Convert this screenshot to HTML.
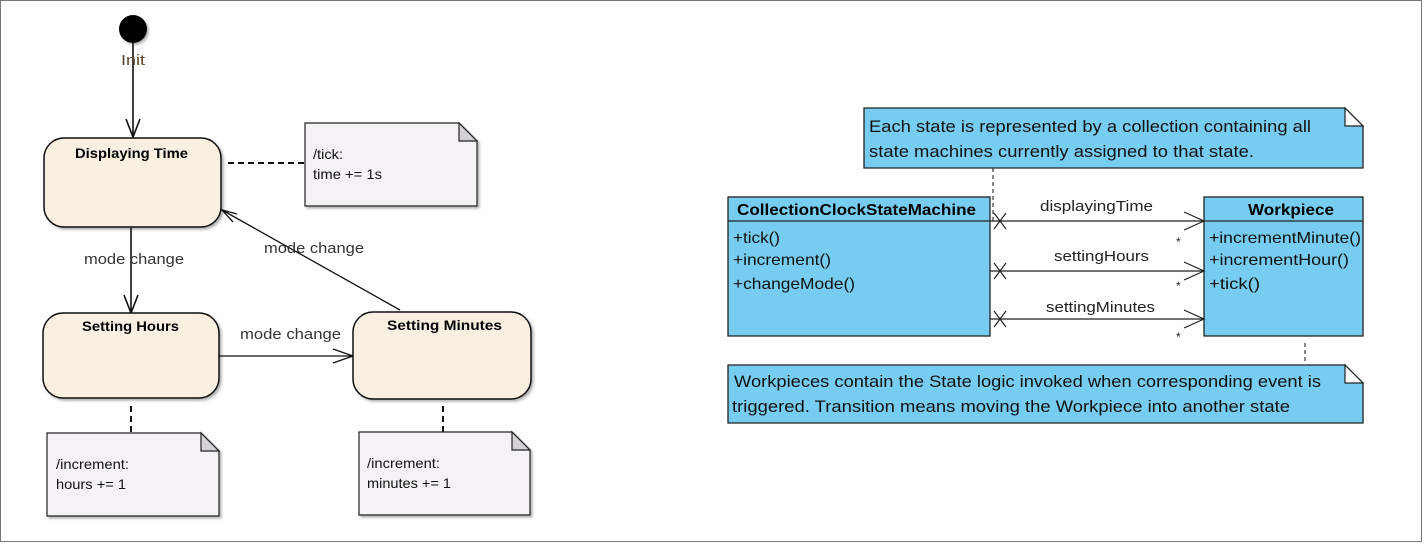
<!DOCTYPE html>
<html><head><meta charset="utf-8"><style>
html,body{margin:0;padding:0;background:#fff;}
svg{display:block;}
text{font-family:"Liberation Sans",sans-serif;}
</style></head><body>
<svg width="1424" height="545" viewBox="0 0 1424 545" xmlns="http://www.w3.org/2000/svg">
<defs>
<filter id="sh" x="-5%" y="-5%" width="115%" height="115%"><feDropShadow dx="2" dy="2" stdDeviation="1.2" flood-color="#000" flood-opacity="0.3"/></filter>
</defs>
<rect x="0.5" y="0.5" width="1421" height="541" fill="#fff" stroke="#777" stroke-width="1"/>
<g fill="none" stroke="#111" stroke-width="1.6">
<circle cx="133" cy="29" r="14" fill="#000" stroke="none" filter="url(#sh)"/>
<line x1="133" y1="42" x2="133" y2="137"/>
<polyline points="126,119 133,137 140,119"/>
<line x1="131" y1="228" x2="131" y2="313"/>
<polyline points="124,295 131,313 138,295"/>
<line x1="219" y1="356" x2="353" y2="356" stroke-width="1.3"/>
<polyline points="333,349 353,356 333,363" stroke-width="1.3"/>
<line x1="400" y1="310" x2="222" y2="210" stroke-width="1.3"/>
<polyline points="237,214 222,210 233,222" stroke-width="1.3"/>
</g>
<g stroke="#111" stroke-width="2" stroke-dasharray="6,4">
<line x1="228" y1="163" x2="305" y2="163"/>
<line x1="131" y1="406" x2="131" y2="433"/>
<line x1="443" y1="406" x2="443" y2="432"/>
</g>
<g fill="#faf0e2" stroke="#111" stroke-width="1.5" filter="url(#sh)">
<rect x="44" y="138" width="177" height="89" rx="20"/>
<rect x="43" y="313" width="176" height="85" rx="20"/>
<rect x="353" y="312" width="178" height="87" rx="20"/>
</g>
<g stroke="#222" stroke-width="1.2" filter="url(#sh)">
<path d="M305,123 H459 L477,141 V206 H305 Z" fill="#f5f2f6"/>
<path d="M47,433 H201 L219,451 V516 H47 Z" fill="#f5f2f6"/>
<path d="M359,432 H512 L530,450 V515 H359 Z" fill="#f5f2f6"/>
</g>
<g fill="#d4d2d6" stroke="#222" stroke-width="1.2">
<path d="M459,123 V141 H477 Z"/>
<path d="M201,433 V451 H219 Z"/>
<path d="M512,432 V450 H530 Z"/>
</g>
<g font-size="14" fill="#000" font-weight="bold" lengthAdjust="spacingAndGlyphs">
<text x="75" y="158" textLength="113" lengthAdjust="spacingAndGlyphs">Displaying Time</text>
<text x="82" y="331" textLength="97" lengthAdjust="spacingAndGlyphs">Setting Hours</text>
<text x="387" y="330" textLength="115" lengthAdjust="spacingAndGlyphs">Setting Minutes</text>
</g>
<g font-size="15" fill="#333">
<text x="121" y="65" fill="#5a4530" textLength="24" lengthAdjust="spacingAndGlyphs">Init</text>
<text x="84" y="264" textLength="100" lengthAdjust="spacingAndGlyphs">mode change</text>
<text x="264" y="253" textLength="100" lengthAdjust="spacingAndGlyphs">mode change</text>
<text x="240" y="339" textLength="101" lengthAdjust="spacingAndGlyphs">mode change</text>
</g>
<g font-size="14" fill="#111">
<text x="313" y="159" textLength="30" lengthAdjust="spacingAndGlyphs">/tick:</text>
<text x="313" y="179" textLength="69" lengthAdjust="spacingAndGlyphs">time += 1s</text>
<text x="56" y="469" textLength="73" lengthAdjust="spacingAndGlyphs">/increment:</text>
<text x="56" y="489" textLength="70" lengthAdjust="spacingAndGlyphs">hours += 1</text>
<text x="367" y="468" textLength="73" lengthAdjust="spacingAndGlyphs">/increment:</text>
<text x="367" y="488" textLength="84" lengthAdjust="spacingAndGlyphs">minutes += 1</text>
</g>
<g stroke="#111" stroke-width="1" stroke-dasharray="4,3">
<line x1="993" y1="168" x2="993" y2="222"/>
<line x1="1305" y1="343" x2="1305" y2="363"/>
</g>
<g stroke="#222" stroke-width="1.3" fill="#77cdf1">
<path d="M864,108 H1345 L1363,126 V168 H864 Z"/>
<path d="M728,365 H1345 L1363,383 V423 H728 Z"/>
<rect x="728" y="197" width="262" height="139"/>
<line x1="728" y1="221" x2="990" y2="221"/>
<rect x="1204" y="197" width="159" height="139"/>
<line x1="1204" y1="221" x2="1363" y2="221"/>
</g>
<g fill="#fff" stroke="#222" stroke-width="1.2">
<path d="M1345,108 V126 H1363 Z"/>
<path d="M1345,365 V383 H1363 Z"/>
</g>
<g stroke="#222" stroke-width="1.2" fill="none">
<line x1="990" y1="221" x2="1204" y2="221"/>
<line x1="990" y1="271" x2="1204" y2="271"/>
<line x1="990" y1="319" x2="1204" y2="319"/>
<polyline points="1184,212 1204,221 1184,230"/>
<polyline points="1184,262 1204,271 1184,280"/>
<polyline points="1184,310 1204,319 1184,328"/>
<path d="M994,213 L1006,229 M1006,213 L994,229"/>
<path d="M994,263 L1006,279 M1006,263 L994,279"/>
<path d="M994,311 L1006,327 M1006,311 L994,327"/>
</g>
<g font-size="16" fill="#000" font-weight="bold">
<text x="737" y="215" textLength="239" lengthAdjust="spacingAndGlyphs">CollectionClockStateMachine</text>
<text x="1248" y="215" textLength="86" lengthAdjust="spacingAndGlyphs">Workpiece</text>
</g>
<g font-size="16" fill="#111">
<text x="733" y="243" textLength="47" lengthAdjust="spacingAndGlyphs">+tick()</text>
<text x="733" y="265" textLength="98" lengthAdjust="spacingAndGlyphs">+increment()</text>
<text x="733" y="289" textLength="122" lengthAdjust="spacingAndGlyphs">+changeMode()</text>
<text x="1209" y="243" textLength="152" lengthAdjust="spacingAndGlyphs">+incrementMinute()</text>
<text x="1209" y="265" textLength="140" lengthAdjust="spacingAndGlyphs">+incrementHour()</text>
<text x="1209" y="289" textLength="51" lengthAdjust="spacingAndGlyphs">+tick()</text>
<text x="869" y="132" font-size="17" textLength="442" lengthAdjust="spacingAndGlyphs">Each state is represented by a collection containing all</text>
<text x="869" y="157" font-size="17" textLength="385" lengthAdjust="spacingAndGlyphs">state machines currently assigned to that state.</text>
<text x="734" y="387" font-size="17" textLength="587" lengthAdjust="spacingAndGlyphs">Workpieces contain the State logic invoked when corresponding event is</text>
<text x="732" y="412" font-size="17" textLength="558" lengthAdjust="spacingAndGlyphs">triggered. Transition means moving the Workpiece into another state</text>
</g>
<g font-size="15" fill="#222">
<text x="1040" y="211" textLength="113" lengthAdjust="spacingAndGlyphs">displayingTime</text>
<text x="1054" y="261" textLength="95" lengthAdjust="spacingAndGlyphs">settingHours</text>
<text x="1046" y="312" textLength="109" lengthAdjust="spacingAndGlyphs">settingMinutes</text>
</g>
<g font-size="12" fill="#222">
<text x="1176" y="246">*</text>
<text x="1176" y="290">*</text>
<text x="1176" y="341">*</text>
</g>
</svg>
</body></html>
